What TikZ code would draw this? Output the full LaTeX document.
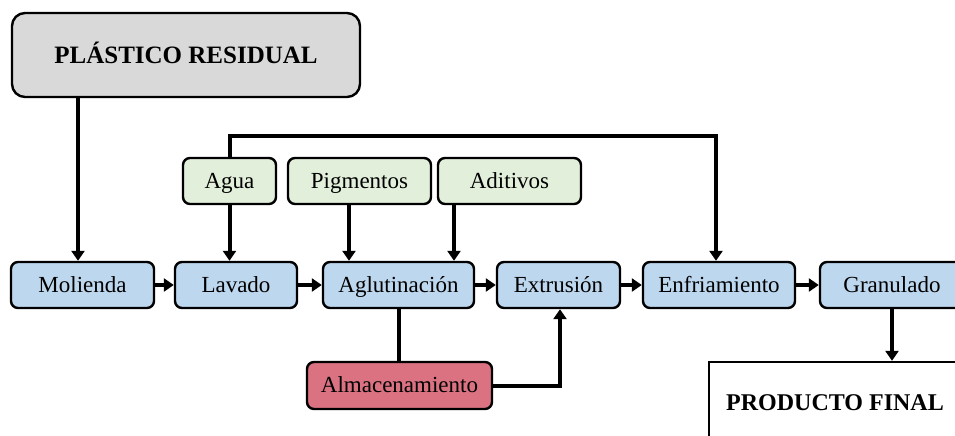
\documentclass[tikz,border=0pt]{standalone}
\usepackage{fontspec}
\setmainfont{Liberation Serif}
\usetikzlibrary{arrows.meta,calc}
\definecolor{bluef}{HTML}{BDD7EE}
\definecolor{greenf}{HTML}{E2EFDA}
\definecolor{grayf}{HTML}{D9D9D9}
\definecolor{redf}{HTML}{DB7282}
\tikzset{
  box/.style={draw=black, line width=2.4pt, rounded corners=7pt, inner sep=0pt, text height=15pt, text depth=1pt, font=\fontsize{23}{26}\selectfont},
  proc/.style={box, fill=bluef, minimum height=46pt},
  inp/.style={box, fill=greenf, minimum height=46pt},
  arr/.style={line width=4pt, -{Triangle[length=10pt,width=13pt]}},
  ln/.style={line width=4pt},
}
\begin{document}
\begin{tikzpicture}[x=1pt,y=-1pt]
\useasboundingbox (0,0) rectangle (955,436);
\node[box, fill=grayf, rounded corners=13pt, minimum width=348pt, minimum height=84pt, text height=17pt, text depth=0pt, font=\fontsize{25}{28}\selectfont\bfseries] (plas) at (186,55) {PLÁSTICO RESIDUAL};
\node[proc, minimum width=143pt] (mol) at (82.5,285) {Molienda};
\node[proc, minimum width=122pt] (lav) at (236,285) {Lavado};
\node[proc, minimum width=151pt] (agl) at (398.5,285) {Aglutinación};
\node[proc, minimum width=123pt] (ext) at (558.5,285) {Extrusión};
\node[proc, minimum width=152pt] (enf) at (719,285) {Enfriamiento};
\node[proc, minimum width=144pt] (gra) at (892,285) {Granulado};
\node[inp, minimum width=93pt] (agua) at (229.5,181) {Agua};
\node[inp, minimum width=143pt] (pig) at (359.5,181) {Pigmentos};
\node[inp, minimum width=143pt] (adi) at (509.5,181) {Aditivos};
\node[box, fill=redf, minimum width=185pt, minimum height=47pt] (alm) at (399.5,385.5) {Almacenamiento};
\node[draw=black, line width=2.4pt, fill=white, inner sep=0pt, minimum width=252pt, minimum height=80pt, text height=16pt, text depth=0pt, font=\fontsize{24}{27}\selectfont\bfseries] (prod) at (835,402) {PRODUCTO FINAL};
% connectors
\draw[arr] ([xshift=-4.5pt]mol.north |- plas.south) -- ([xshift=-4.5pt]mol.north);
\draw[arr] (mol.east) -- (lav.west);
\draw[arr] (lav.east) -- (agl.west);
\draw[arr] (agl.east) -- (ext.west);
\draw[arr] (ext.east) -- (enf.west);
\draw[arr] (enf.east) -- (gra.west);
\draw[arr] (agua.south) -- (agua.south |- lav.north);
\draw[arr] ([xshift=-10.5pt]pig.south) -- ([xshift=-10.5pt]pig.south |- agl.north);
\draw[arr] ([xshift=-55.5pt]adi.south) -- ([xshift=-55.5pt]adi.south |- agl.north);
\coordinate (fb) at ($(enf.north)+(-3,-125)$);
\draw[arr] (agua.north) |- (fb) -- (fb |- enf.north);
\draw[ln] (agl.south) -- (agl.south |- alm.north);
\draw[arr] (alm.east) -| ([xshift=1.5pt]ext.south);
\draw[arr] (gra.south) -- (gra.south |- prod.north);
\end{tikzpicture}
\end{document}
